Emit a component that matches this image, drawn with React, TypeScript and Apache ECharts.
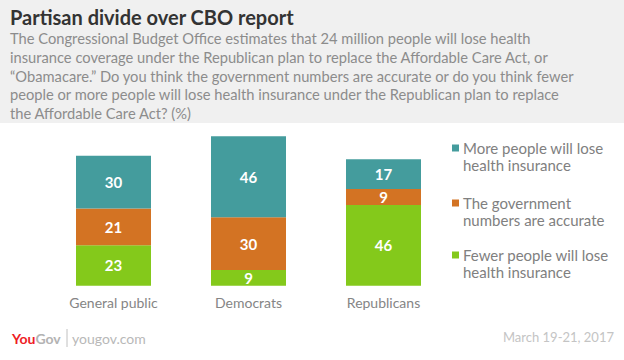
import React, { useEffect, useRef } from "react";
import * as echarts from "echarts";

const categories = ["General public", "Democrats", "Republicans"];
const seriesNames = [
  "Fewer people will lose health insurance",
  "The government numbers are accurate",
  "More people will lose health insurance",
];
const fewerValues = [23, 9, 46];
const accurateValues = [21, 30, 9];
const moreValues = [30, 46, 17];
const seriesColors = ["#84c91b", "#d37323", "#449c9d"];
const legendLines = [
  ["More people will lose", "health insurance"],
  ["The government", "numbers are accurate"],
  ["Fewer people will lose", "health insurance"],
];
const legendColors = ["#449c9d", "#d37323", "#84c91b"];

const titleText = "Partisan divide over CBO report";
const subtitleLines = [
  "The Congressional Budget Office estimates that 24 million people will lose health",
  "insurance coverage under the Republican plan to replace the Affordable Care Act, or",
  "\u201cObamacare.\u201d Do you think the government numbers are accurate or do you think fewer",
  "people or more people will lose health insurance under the Republican plan to replace",
  "the Affordable Care Act? (%)",
];
const dateText = "March 19-21, 2017";

const FONT = "Lato, 'Open Sans', sans-serif";

export default function App() {
  const ref = useRef<HTMLDivElement>(null);
  useEffect(() => {
    const chart = echarts.init(ref.current!, null, { renderer: "svg" });
    const values = [fewerValues, accurateValues, moreValues];
    const graphic: any[] = [
      { type: "rect", shape: { x: 0, y: 0, width: 624, height: 123 }, style: { fill: "#f0f0f0" }, z: -10 },
      {
        type: "text",
        x: 10,
        y: 17,
        style: { text: titleText, fill: "#333333", font: `bold 20px ${FONT}`, verticalAlign: "middle" },
      },
    ];
    subtitleLines.forEach((line, i) => {
      graphic.push({
        type: "text",
        x: 10,
        y: 38 + i * 18.8,
        style: { text: line, fill: "#8c8c8c", font: `14.7px ${FONT}`, verticalAlign: "middle" },
      });
    });
    const legendTops = [148, 203, 255];
    legendLines.forEach((lines, i) => {
      graphic.push({
        type: "rect",
        shape: { x: 452, y: legendTops[i] - 3.5, width: 7, height: 7 },
        style: { fill: legendColors[i] },
      });
      lines.forEach((l, j) => {
        graphic.push({
          type: "text",
          x: 463,
          y: legendTops[i] + j * 17,
          style: { text: l, fill: "#808080", font: `15px ${FONT}`, verticalAlign: "middle" },
        });
      });
    });
    graphic.push(
      {
        type: "text",
        x: 12,
        y: 338,
        style: {
          text: "{a|You}{b|Gov}",
          verticalAlign: "middle",
          rich: {
            a: { fill: "#ee1c25", font: `bold 14px ${FONT}` },
            b: { fill: "#b3b3b3", font: `bold 14px ${FONT}` },
          },
        },
      },
      { type: "line", shape: { x1: 67, y1: 329, x2: 67, y2: 347 }, style: { stroke: "#c0c0c0", lineWidth: 1 } },
      {
        type: "text",
        x: 72,
        y: 338,
        style: { text: "yougov.com", fill: "#b8b8b8", font: `14px ${FONT}`, verticalAlign: "middle" },
      },
      {
        type: "text",
        x: 614,
        y: 337,
        style: { text: dateText, fill: "#c4c4c4", font: `13px ${FONT}`, verticalAlign: "middle", align: "right" },
      }
    );

    chart.setOption({
      animation: false,
      backgroundColor: "#ffffff",
      grid: { left: 46, right: 173, top: 110, bottom: 74.3 },
      xAxis: {
        type: "category",
        data: categories,
        axisLine: { show: false },
        axisTick: { show: false },
        axisLabel: { color: "#858585", fontSize: 14, fontFamily: FONT, margin: 10 },
      },
      yAxis: { type: "value", min: 0, max: 100, show: false, splitLine: { show: false } },
      graphic,
      series: seriesNames.map((name, i) => ({
        name,
        type: "bar",
        stack: "total",
        barWidth: 75,
        data: values[i],
        itemStyle: { color: seriesColors[i] },
        label: {
          show: true,
          position: "inside",
          color: "#ffffff",
          fontSize: 15,
          fontWeight: "bold",
          fontFamily: FONT,
        },
      })),
    });
    return () => chart.dispose();
  }, []);
  return (
    <div
      ref={ref}
      style={{ position: "absolute", left: 0, top: 0, width: 624, height: 360 }}
    />
  );
}
